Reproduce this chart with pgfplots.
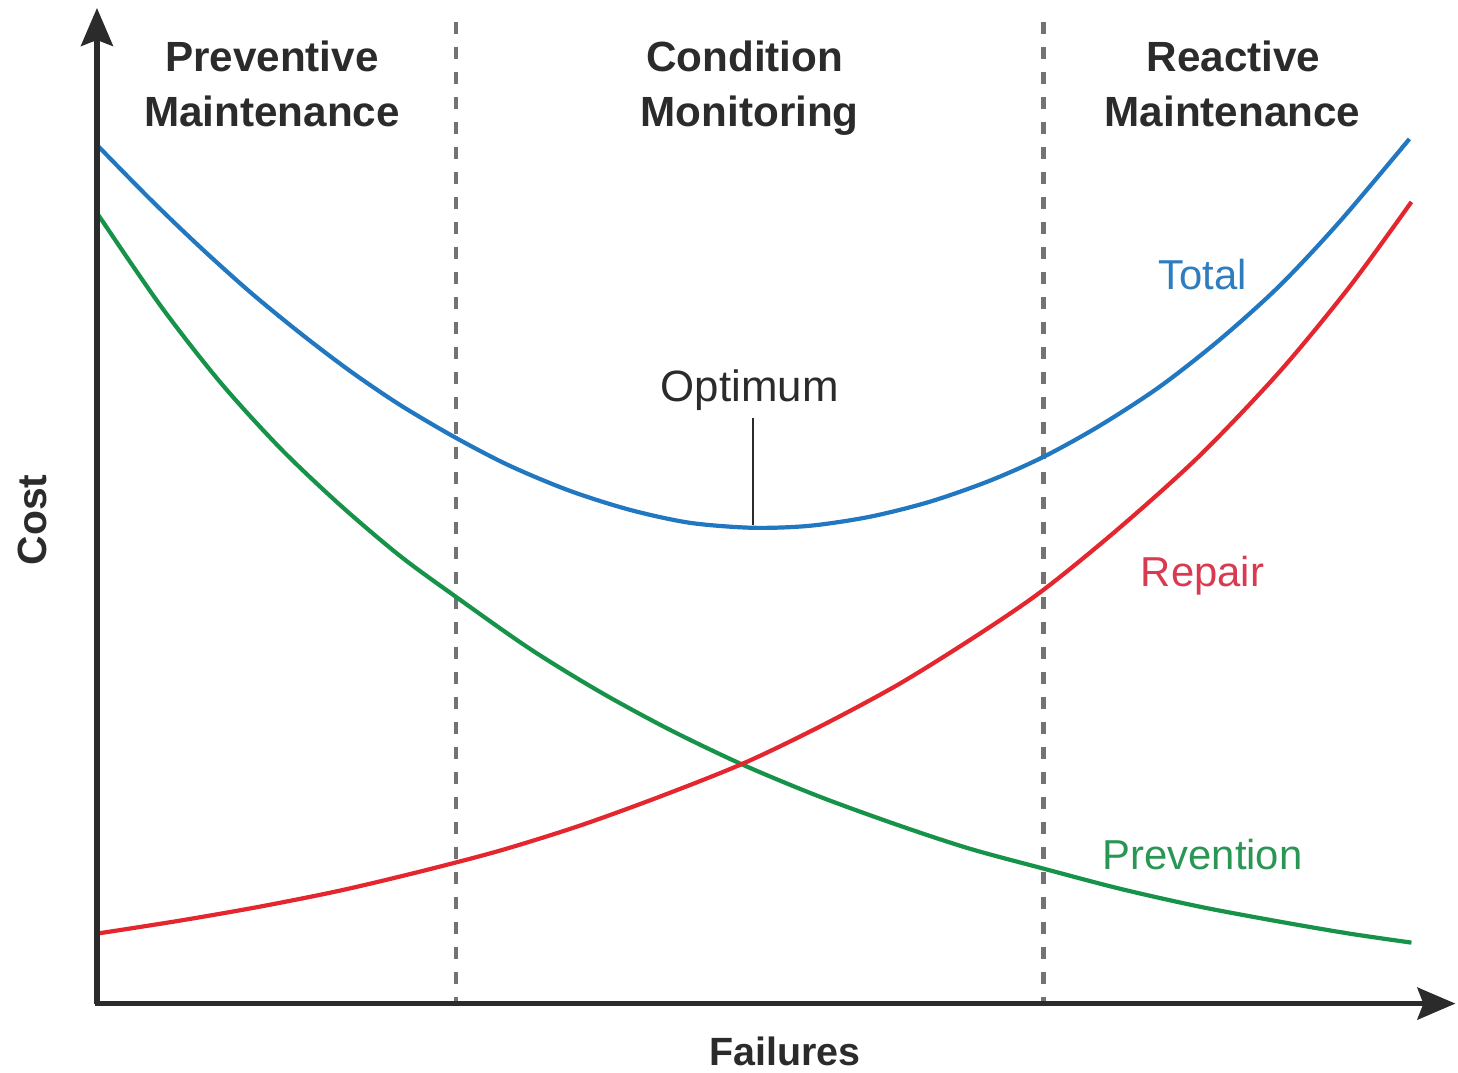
\documentclass[border=0pt]{standalone}
\usepackage{fontspec}
\setmainfont{Liberation Sans}
\usepackage{pgfplots}
\pgfplotsset{compat=1.18}
\usetikzlibrary{arrows.meta}
\definecolor{cblue}{HTML}{2178C0}
\definecolor{cred}{HTML}{E4262F}
\definecolor{cgreen}{HTML}{179249}
\definecolor{tblue}{HTML}{2E7DBF}
\definecolor{tred}{HTML}{D93A50}
\definecolor{tgreen}{HTML}{2A9654}
\definecolor{dark}{HTML}{2B2B2B}
\definecolor{dotgray}{HTML}{737373}
\begin{document}
\begin{tikzpicture}
\begin{axis}[
  scale only axis, width=729bp, height=536.5bp,
  xmin=0, xmax=1458, ymin=0, ymax=1073, y dir=reverse,
  hide axis, clip=false]
\path (axis cs:0,0) rectangle (axis cs:1458,1073);
% region separators
\draw[dotgray, line width=2.2bp, dash pattern=on 6bp off 6.5bp] (axis cs:456,22) -- (axis cs:456,1003);
\draw[dotgray, line width=2.2bp, dash pattern=on 6bp off 6.5bp] (axis cs:1044,22) -- (axis cs:1044,1003);
% curves
\addplot[cgreen, line width=2.1bp, smooth] coordinates {
(97,213) (160,305) (220,382) (280,448) (340,505) (400,556) (456,597) (530,649) (600,692) (670,730) (743,765) (820,797) (900,826) (970,849) (1044,869) (1120,889) (1200,907) (1280,922) (1350,934) (1412,943)};
\addplot[cred, line width=2.1bp, smooth] coordinates {
(97,934) (180,921) (260,907) (340,891) (420,872) (500,851) (580,826) (660,797) (743,764) (820,727) (900,684) (980,634) (1044,590) (1120,528) (1200,456) (1280,372) (1350,287) (1412,202)};
\addplot[cblue, line width=2.1bp, smooth] coordinates {
(97,145) (150,199) (200,247) (250,292) (300,333) (350,371) (400,405) (456,438) (510,466) (570,491) (630,510) (690,523) (753,528) (810,526) (870,517) (930,502) (990,481) (1044,457) (1100,426) (1160,387) (1220,340) (1280,286) (1340,222) (1410,139)};
% axes
\draw[dark, line width=2.6bp, -{Stealth[length=19bp, width=16bp, inset=3bp]}] (axis cs:97,1004) -- (axis cs:97,8);
\draw[dark, line width=2.6bp, -{Stealth[length=19bp, width=16bp, inset=3bp]}] (axis cs:95,1004) -- (axis cs:1456,1004);
% optimum marker
\draw[dark, line width=1bp] (axis cs:753,418) -- (axis cs:753,525);
% texts
\node[anchor=base, dark, font=\bfseries\fontsize{21.2}{26}\selectfont] at (axis cs:272,72) {Preventive};
\node[anchor=base, dark, font=\bfseries\fontsize{21.2}{26}\selectfont] at (axis cs:272,127) {Maintenance};
\node[anchor=base, dark, font=\bfseries\fontsize{21.2}{26}\selectfont] at (axis cs:745,72) {Condition};
\node[anchor=base, dark, font=\bfseries\fontsize{21.2}{26}\selectfont] at (axis cs:750,127) {Monitoring};
\node[anchor=base, dark, font=\bfseries\fontsize{21.2}{26}\selectfont] at (axis cs:1234,72) {Reactive};
\node[anchor=base, dark, font=\bfseries\fontsize{21.2}{26}\selectfont] at (axis cs:1233,127) {Maintenance};
\node[anchor=base, dark, font=\fontsize{22}{26}\selectfont] at (axis cs:750,402) {Optimum};
\node[anchor=base, tblue, font=\fontsize{21}{25}\selectfont] at (axis cs:1203,290) {Total};
\node[anchor=base, tred, font=\fontsize{21}{25}\selectfont] at (axis cs:1203,587) {Repair};
\node[anchor=base, tgreen, font=\fontsize{21}{25}\selectfont] at (axis cs:1203,870) {Prevention};
\node[anchor=base, dark, font=\bfseries\fontsize{19.8}{24}\selectfont] at (axis cs:785,1066) {Failures};
\node[anchor=base, dark, rotate=90, font=\bfseries\fontsize{20.5}{24}\selectfont] at (axis cs:47,520) {Cost};
\end{axis}
\end{tikzpicture}
\end{document}
